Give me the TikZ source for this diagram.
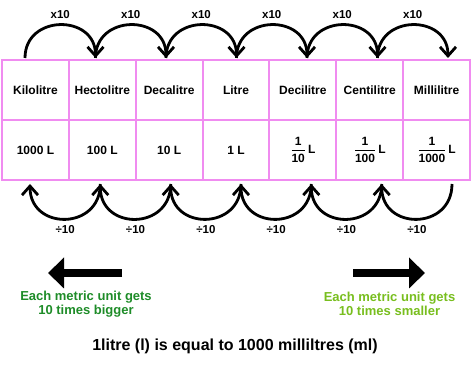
\documentclass[tikz,border=0pt]{standalone}
\usepackage{amsmath}
\usepackage{fontspec}
\setmainfont{Liberation Sans}
\usetikzlibrary{arrows.meta,positioning}
\definecolor{cellpink}{RGB}{240,140,240}
\definecolor{biggreen}{RGB}{30,140,40}
\definecolor{smallgreen}{RGB}{120,190,30}
\newcommand{\litfrac}[1]{$\genfrac{}{}{1.2pt}{0}{\mbox{1}}{\mbox{#1}}$\,L}

\begin{document}
\begin{tikzpicture}[x=1pt,y=1pt,
		% Node styles
		unitcell/.style={draw=cellpink, line width=2pt, minimum width=66.86pt, minimum height=60pt,
				outer sep=0pt, inner sep=0pt, font=\fontsize{12}{14}\selectfont\bfseries, align=center},
		steplabel/.style={font=\fontsize{11.5}{13}\selectfont\bfseries, inner sep=1pt},
		note/.style={font=\fontsize{13}{14.5}\selectfont\bfseries, align=center},
		% Arrow styles
		hop/.style={-{Straight Barb[length=9pt,width=16pt]}, line width=2.8pt},
		bigarrow/.style={-{Triangle[length=16pt,width=30pt]}, line width=8pt},
	]

	\useasboundingbox (0,0) rectangle (475,369);

	% Unit names - first row
	\node[unitcell] (kilo) at (35.43,279) {Kilolitre};
	\node[unitcell] (hecto) [right=0pt of kilo] {Hectolitre};
	\node[unitcell] (deca) [right=0pt of hecto] {Decalitre};
	\node[unitcell] (litre) [right=0pt of deca] {Litre};
	\node[unitcell] (deci) [right=0pt of litre] {Decilitre};
	\node[unitcell] (centi) [right=0pt of deci] {Centilitre};
	\node[unitcell] (milli) [right=0pt of centi] {Millilitre};

	% Values in litres - second row
	\node[unitcell] (kiloval) [below=0pt of kilo] {1000 L};
	\node[unitcell] (hectoval) [below=0pt of hecto] {100 L};
	\node[unitcell] (decaval) [below=0pt of deca] {10 L};
	\node[unitcell] (litreval) [below=0pt of litre] {1 L};
	\node[unitcell] (decival) [below=0pt of deci] {\litfrac{10}};
	\node[unitcell] (centival) [below=0pt of centi] {\litfrac{100}};
	\node[unitcell] (millival) [below=0pt of milli] {\litfrac{1000}};

	% Hop points above and below the table
	\coordinate (t0) at (25,311);
	\coordinate (t1) at (95.5,311);
	\coordinate (t2) at (166,311);
	\coordinate (t3) at (236.5,311);
	\coordinate (t4) at (307,311);
	\coordinate (t5) at (377.5,311);
	\coordinate (t6) at (448,311);

	\coordinate (b0) at (30,185);
	\coordinate (b1) at (100.3,185);
	\coordinate (b2) at (170.7,185);
	\coordinate (b3) at (241,185);
	\coordinate (b4) at (311.3,185);
	\coordinate (b5) at (381.7,185);
	\coordinate (b6) at (452,185);

	% Multiply hops
	\draw[hop] (t0) to[out=90, in=90, looseness=1.6] node[steplabel, above=4pt] {x10} (t1);
	\draw[hop] (t1) to[out=90, in=90, looseness=1.6] node[steplabel, above=4pt] {x10} (t2);
	\draw[hop] (t2) to[out=90, in=90, looseness=1.6] node[steplabel, above=4pt] {x10} (t3);
	\draw[hop] (t3) to[out=90, in=90, looseness=1.6] node[steplabel, above=4pt] {x10} (t4);
	\draw[hop] (t4) to[out=90, in=90, looseness=1.6] node[steplabel, above=4pt] {x10} (t5);
	\draw[hop] (t5) to[out=90, in=90, looseness=1.6] node[steplabel, above=4pt] {x10} (t6);

	% Divide hops
	\draw[hop] (b1) to[out=-90, in=-90, looseness=1.7] node[steplabel, below=4pt] {÷10} (b0);
	\draw[hop] (b2) to[out=-90, in=-90, looseness=1.7] node[steplabel, below=4pt] {÷10} (b1);
	\draw[hop] (b3) to[out=-90, in=-90, looseness=1.7] node[steplabel, below=4pt] {÷10} (b2);
	\draw[hop] (b4) to[out=-90, in=-90, looseness=1.7] node[steplabel, below=4pt] {÷10} (b3);
	\draw[hop] (b5) to[out=-90, in=-90, looseness=1.7] node[steplabel, below=4pt] {÷10} (b4);
	\draw[hop] (b6) to[out=-90, in=-90, looseness=1.7] node[steplabel, below=4pt] {÷10} (b5);

	% Direction arrows
	\coordinate (bigstart) at (122,96);
	\coordinate (bigend) at (48,96);
	\coordinate (smallstart) at (353,96);
	\coordinate (smallend) at (425,96);
	\draw[bigarrow] (bigstart) -- (bigend);
	\draw[bigarrow] (smallstart) -- (smallend);

	\node[note, text=biggreen] (bigger) at (86,65) {Each metric unit gets\\10 times bigger};
	\node[note, text=smallgreen] (smaller) at (389.5,65) {Each metric unit gets\\10 times smaller};

	% Summary line
	\node[font=\fontsize{16}{18}\selectfont\bfseries] (summary) at (235,23) {1litre (l) is equal to 1000 milliltres (ml)};

\end{tikzpicture}
\end{document}
